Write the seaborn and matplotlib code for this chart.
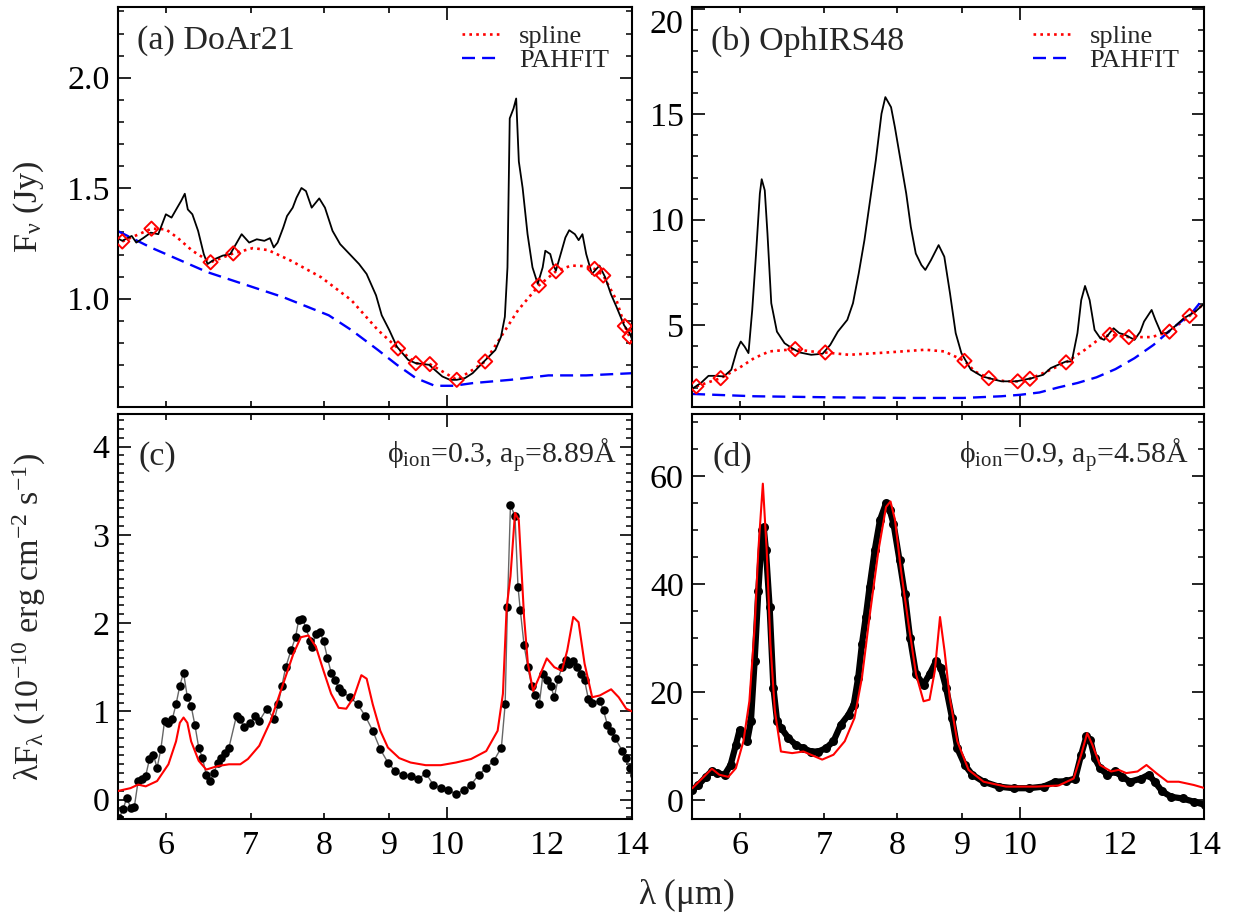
import numpy as np
import pandas as pd
import matplotlib
matplotlib.use("Agg")
import matplotlib.pyplot as plt
import seaborn as sns
from matplotlib.ticker import NullLocator, MultipleLocator, FixedLocator

# ---------------- data ----------------
XTICKS = [6, 7, 8, 9, 10, 12, 14]

# (a) DoAr21 observed spectrum, F_nu (Jy)
a_wave = [5.494, 5.543, 5.639, 5.686, 5.757, 5.837, 5.918, 6.000, 6.062, 6.125, 6.168, 6.210,
          6.244, 6.296, 6.362, 6.428, 6.472, 6.562, 6.653, 6.745, 6.886, 6.981, 7.078, 7.176,
          7.250, 7.300, 7.351, 7.427, 7.478, 7.556, 7.608, 7.677, 7.740, 7.821, 7.929, 8.012,
          8.123, 8.236, 8.379, 8.524, 8.642, 8.792, 8.883, 9.006, 9.131, 9.322, 9.451, 9.681,
          9.782, 9.918, 10.055, 10.181, 10.336, 10.479, 10.698, 10.921, 11.034, 11.111, 11.164,
          11.21, 11.288, 11.342, 11.397, 11.476, 11.579, 11.683, 11.796, 11.902, 11.959, 12.067,
          12.125, 12.192, 12.319, 12.404, 12.490, 12.619, 12.706, 12.794, 12.882, 13.016, 13.196,
          13.333, 13.471, 13.611, 13.800, 13.943, 14.01]
a_flux = [1.274, 1.262, 1.284, 1.254, 1.274, 1.299, 1.292, 1.382, 1.367, 1.412, 1.442, 1.475,
          1.404, 1.382, 1.307, 1.202, 1.157, 1.180, 1.195, 1.202, 1.292, 1.254, 1.269, 1.262,
          1.274, 1.232, 1.254, 1.322, 1.374, 1.412, 1.457, 1.501, 1.487, 1.412, 1.454, 1.412,
          1.307, 1.247, 1.202, 1.157, 1.112, 1.015, 0.925, 0.858, 0.783, 0.723, 0.708, 0.701,
          0.678, 0.648, 0.633, 0.633, 0.641, 0.663, 0.716, 0.768, 0.828, 0.918, 1.142,
          1.816, 1.861, 1.906, 1.621, 1.501, 1.292, 1.142, 1.067, 1.142, 1.217, 1.202,
          1.157, 1.127, 1.217, 1.277, 1.310, 1.292, 1.265, 1.292, 1.202, 1.112, 1.150,
          1.097, 1.022, 0.963, 0.880, 0.843, 0.813]
a_knot_wave = [5.543, 5.845, 6.508, 6.782, 9.150, 9.451, 9.695, 10.181, 10.720, 11.820, 12.192,
               13.079, 13.287, 13.819, 13.943]
a_knot_flux = [1.259, 1.317, 1.165, 1.205, 0.775, 0.708, 0.704, 0.633, 0.716, 1.060, 1.124,
               1.135, 1.105, 0.876, 0.828]
a_spline_wave = [5.543, 5.845, 6.000, 6.125, 6.296, 6.508, 6.782, 7.029, 7.226, 7.531, 7.957,
                 8.407, 8.822, 9.150, 9.451, 9.695, 9.918, 10.181, 10.479, 10.720, 11.034,
                 11.381, 11.820, 12.192, 12.533, 12.882, 13.079, 13.287, 13.611, 13.819, 14.01]
a_spline_flux = [1.259, 1.317, 1.314, 1.277, 1.217, 1.165, 1.205, 1.229, 1.220, 1.172, 1.097,
                 0.993, 0.858, 0.775, 0.708, 0.704, 0.671, 0.633, 0.678, 0.716, 0.828,
                 0.948, 1.060, 1.124, 1.150, 1.147, 1.135, 1.105, 0.993, 0.876, 0.798]
a_pahfit_wave = [5.494, 5.837, 6.472, 7.427, 8.067, 8.407, 8.822, 9.131, 9.451, 9.782, 10.125,
                 10.479, 11.226, 12.026, 12.882, 14.01]
a_pahfit_flux = [1.307, 1.232, 1.120, 1.007, 0.925, 0.858, 0.768, 0.701, 0.641, 0.606, 0.606,
                 0.618, 0.633, 0.653, 0.653, 0.663]

# (b) OphIRS48 observed spectrum, F_nu (Jy)
b_wave = [5.513, 5.590, 5.668, 5.747, 5.828, 5.909, 5.971, 6.012, 6.054, 6.097, 6.139, 6.182,
          6.225, 6.246, 6.281, 6.312, 6.356, 6.422, 6.512, 6.603, 6.695, 6.836, 6.980, 7.078,
          7.177, 7.302, 7.378, 7.456, 7.534, 7.612, 7.692, 7.772, 7.827, 7.909, 7.964, 8.047,
          8.131, 8.199, 8.274, 8.360, 8.419, 8.507, 8.626, 8.716, 8.807, 8.899, 8.992, 9.150,
          9.343, 9.672, 9.944, 10.225, 10.440, 10.586, 10.734, 10.884, 10.998, 11.113, 11.190,
          11.268, 11.363, 11.466, 11.586, 11.667, 11.871, 11.995, 12.121, 12.333, 12.462,
          12.549, 12.724, 12.812, 12.946, 13.081, 13.310, 13.496, 13.780, 13.992]
b_flux = [2.00, 2.24, 2.58, 2.58, 2.55, 2.87, 3.82, 4.21, 3.97, 3.66, 5.71, 8.39,
          11.24, 11.92, 11.39, 9.34, 6.03, 4.68, 4.13, 3.89, 3.69, 3.58, 3.63, 4.05,
          4.68, 5.24, 6.03, 7.45, 9.03, 10.92, 12.82, 15.03, 15.82, 15.34, 14.40, 12.82,
          11.24, 9.66, 8.39, 7.84, 7.61, 8.08, 8.79, 8.24, 6.50, 4.61, 3.66, 2.87,
          2.55, 2.32, 2.32, 2.47, 2.63, 2.95, 3.11, 3.26, 3.26, 4.61, 6.18,
          6.85, 6.18, 4.76, 4.37, 4.29, 4.84, 4.61, 4.53, 4.29, 4.68,
          5.16, 5.71, 5.24, 4.61, 4.61, 4.99, 5.32, 5.63, 5.99]
b_knot_wave = [5.544, 5.795, 6.640, 7.014, 9.043, 9.453, 9.965, 10.190, 10.884, 11.789, 12.205,
               13.145, 13.637]
b_knot_flux = [2.08, 2.47, 3.85, 3.69, 3.29, 2.47, 2.32, 2.44, 3.22, 4.53, 4.42, 4.68, 5.43]
b_spline_wave = [5.544, 5.795, 5.992, 6.160, 6.334, 6.640, 6.836, 7.014, 7.327, 7.854, 8.419,
                 8.716, 9.043, 9.214, 9.453, 9.740, 9.965, 10.190, 10.513, 10.884, 11.268,
                 11.586, 11.789, 12.205, 12.724, 13.145, 13.637, 13.992]
b_spline_flux = [2.08, 2.47, 2.95, 3.42, 3.74, 3.85, 3.74, 3.69, 3.58, 3.69, 3.82,
                 3.74, 3.29, 2.79, 2.47, 2.32, 2.32, 2.44, 2.79, 3.22, 3.82,
                 4.37, 4.53, 4.42, 4.42, 4.68, 5.43, 5.99]
b_pahfit_wave = [5.501, 6.160, 7.078, 8.131, 9.024, 9.672, 10.013, 10.368, 10.734, 11.113,
                 11.506, 11.912, 12.333, 12.768, 13.218, 13.685, 13.924]
b_pahfit_flux = [1.72, 1.61, 1.56, 1.53, 1.53, 1.61, 1.68, 1.79, 2.03, 2.24,
                 2.51, 2.90, 3.42, 4.05, 4.84, 5.55, 6.11]

# (c) DoAr21 PAH emission, lambda F_lambda (1e-10 erg cm-2 s-1)
c_wave = [5.512, 5.550, 5.589, 5.627, 5.666, 5.705, 5.745, 5.784, 5.824, 5.864, 5.905, 5.945,
          5.986, 6.028, 6.070, 6.112, 6.154, 6.196, 6.239, 6.282, 6.326, 6.369, 6.413, 6.457,
          6.502, 6.547, 6.592, 6.637, 6.683, 6.729, 6.822, 6.869, 6.917, 6.994, 7.061, 7.110,
          7.208, 7.308, 7.359, 7.409, 7.460, 7.532, 7.595, 7.637, 7.690, 7.743, 7.796, 7.829,
          7.882, 7.937, 7.991, 8.047, 8.102, 8.158, 8.214, 8.271, 8.386, 8.502, 8.619, 8.739,
          8.860, 8.983, 9.107, 9.233, 9.361, 9.490, 9.622, 9.755, 9.890, 10.028, 10.166, 10.307,
          10.450, 10.595, 10.741, 10.890, 11.041, 11.117, 11.163, 11.225, 11.318, 11.380, 11.427,
          11.506, 11.586, 11.666, 11.746, 11.827, 11.909, 11.991, 12.074, 12.157, 12.241, 12.326,
          12.411, 12.496, 12.582, 12.669, 12.757, 12.844, 12.933, 13.022, 13.204, 13.294, 13.386,
          13.479, 13.572, 13.759, 13.854, 13.950, 14.046]
c_obs = [-0.21, -0.11, 0.02, -0.09, -0.08, 0.21, 0.23, 0.27, 0.46, 0.51, 0.36, 0.57,
         0.89, 0.87, 0.91, 1.08, 1.29, 1.44, 1.16, 1.06, 0.84, 0.59, 0.47, 0.28,
         0.21, 0.30, 0.42, 0.47, 0.53, 0.59, 0.95, 0.91, 0.82, 0.87, 0.95, 0.89,
         1.03, 0.91, 1.08, 1.29, 1.50, 1.69, 1.84, 2.03, 2.05, 1.94, 1.80, 1.73,
         1.88, 1.90, 1.80, 1.61, 1.44, 1.35, 1.27, 1.22, 1.16, 1.08, 0.95, 0.78,
         0.57, 0.42, 0.32, 0.28, 0.27, 0.23, 0.30, 0.17, 0.13, 0.11, 0.06, 0.11,
         0.17, 0.28, 0.36, 0.44, 0.59, 1.08, 2.18, 3.34, 3.21, 2.41, 2.15,
         1.75, 1.50, 1.29, 1.18, 1.08, 1.42, 1.35, 1.29, 1.16, 1.37, 1.50,
         1.58, 1.54, 1.57, 1.50, 1.42, 1.35, 1.14, 1.10, 1.12, 1.01, 0.85,
         0.78, 0.70, 0.55, 0.47, 0.36, 0.28]
c_model_wave = [5.490, 5.627, 5.705, 5.784, 5.905, 6.028, 6.112, 6.154, 6.196, 6.239, 6.282,
                6.369, 6.457, 6.592, 6.729, 6.869, 6.965, 7.110, 7.258, 7.409, 7.564, 7.668,
                7.775, 7.882, 7.991, 8.102, 8.214, 8.328, 8.443, 8.560, 8.643, 8.739, 8.860,
                8.983, 9.170, 9.361, 9.622, 9.890, 10.166, 10.450, 10.741, 10.966, 11.072,
                11.148, 11.225, 11.318, 11.396, 11.506, 11.586, 11.698, 11.827, 11.991, 12.157,
                12.326, 12.445, 12.582, 12.704, 12.844, 13.022, 13.204, 13.479, 13.665, 13.854,
                14.046]
c_model = [0.095, 0.13, 0.17, 0.15, 0.21, 0.40, 0.66, 0.87, 0.93, 0.87, 0.66,
           0.44, 0.34, 0.38, 0.40, 0.40, 0.46, 0.61, 0.89, 1.27, 1.65, 1.84,
           1.86, 1.73, 1.46, 1.20, 1.04, 1.03, 1.16, 1.41, 1.37, 1.08, 0.78,
           0.59, 0.47, 0.42, 0.39, 0.39, 0.42, 0.46, 0.55, 0.78, 1.20,
           2.18, 2.53, 3.25, 3.17, 2.07, 1.54, 1.23, 1.39, 1.60, 1.50,
           1.46, 1.69, 2.07, 2.01, 1.54, 1.16, 1.18, 1.25, 1.16, 1.03,
           0.99]

# (d) OphIRS48 PAH emission
d_wave = [5.503, 5.564, 5.641, 5.703, 5.757, 5.837, 5.901, 5.958, 5.999, 6.041, 6.082, 6.124,
          6.166, 6.208, 6.251, 6.268, 6.294, 6.337, 6.381, 6.424, 6.469, 6.558, 6.649, 6.740,
          6.833, 6.927, 7.023, 7.120, 7.218, 7.318, 7.388, 7.449, 7.500, 7.552, 7.604, 7.677,
          7.751, 7.837, 7.890, 7.944, 8.032, 8.109, 8.187, 8.278, 8.392, 8.484, 8.589, 8.660,
          8.744, 8.840, 8.925, 9.048, 9.173, 9.364, 9.623, 9.891, 10.166, 10.448, 10.665,
          10.886, 11.067, 11.189, 11.296, 11.375, 11.468, 11.579, 11.739, 11.901, 12.065,
          12.231, 12.485, 12.657, 12.796, 12.973, 13.188, 13.462, 13.741, 14.027]
d_obs = [1.9, 2.8, 4.3, 5.4, 5.0, 4.7, 6.5, 10.2, 13.0, 12.4, 10.9, 14.6,
         25.8, 38.8, 50.0, 50.6, 46.3, 35.7, 20.8, 14.6, 13.4, 11.5, 10.2, 9.6,
         9.0, 9.0, 9.6, 10.9, 14.0, 15.8, 17.7, 22.7, 28.9, 33.9, 39.4, 46.3,
         51.9, 55.0, 53.7, 51.2, 44.4, 38.2, 30.1, 23.3, 21.4, 23.3, 25.8, 24.5,
         20.8, 15.2, 9.6, 6.5, 4.7, 3.4, 2.5, 2.2, 2.2, 2.5, 3.4,
         3.5, 4.0, 8.4, 11.8, 11.2, 7.8, 5.9, 4.7, 5.3, 4.3,
         3.4, 4.0, 4.7, 3.4, 1.6, 0.6, 0.3, -0.3, -0.9]
d_model_wave = [5.503, 5.602, 5.703, 5.781, 5.877, 5.958, 6.041, 6.107, 6.166, 6.208, 6.259,
                6.303, 6.346, 6.398, 6.469, 6.603, 6.740, 6.833, 6.975, 7.120, 7.268, 7.398,
                7.500, 7.604, 7.730, 7.837, 7.901, 7.966, 8.054, 8.165, 8.278, 8.392, 8.484,
                8.566, 8.648, 8.720, 8.804, 8.925, 9.110, 9.364, 9.756, 10.306, 10.738, 11.036,
                11.189, 11.312, 11.421, 11.579, 11.819, 11.982, 12.147, 12.400, 12.605, 12.831,
                13.098, 13.370, 13.741, 14.027]
d_model = [2.2, 4.0, 5.8, 4.7, 4.3, 5.9, 10.9, 18.3, 32.0, 46.3, 58.6,
           46.3, 28.9, 16.5, 9.0, 8.7, 9.0, 8.4, 7.5, 8.4, 10.9, 15.2,
           22.7, 33.9, 46.3, 54.3, 55.3, 51.9, 42.5, 32.6, 23.3, 18.3, 18.6,
           23.9, 33.9, 27.6, 18.9, 10.9, 5.6, 3.4, 2.5, 2.5, 2.7, 4.0,
           8.4, 12.4, 10.2, 6.5, 5.3, 5.6, 5.0, 5.3, 6.5, 5.0,
           3.4, 3.4, 2.8, 2.2]

panel_titles = ["(a) DoAr21", "(b) OphIRS48", "(c)", "(d)"]
fit_labels = [r"$\phi_{ion}$=0.3, a$_p$=8.89Å", r"$\phi_{ion}$=0.9, a$_p$=4.58Å"]

# ---------------- style ----------------
sns.set_style("ticks")
plt.rcParams.update({
    "font.family": ["Liberation Serif", "DejaVu Serif"],
    "mathtext.fontset": "custom",
    "mathtext.rm": "Liberation Serif",
    "mathtext.it": "Liberation Serif:italic",
    "mathtext.bf": "Liberation Serif:bold",
    "mathtext.default": "regular",
    "axes.linewidth": 1.5,
    "axes.edgecolor": "black",
    "xtick.direction": "in",
    "ytick.direction": "in",
    "xtick.top": True,
    "ytick.right": True,
    "xtick.color": "black",
    "ytick.color": "black",
    "axes.unicode_minus": True,
})

FS = 24.5
W, H = 1236, 923
fig = plt.figure(figsize=(W / 100, H / 100), dpi=100)


def box(l, r, t, b):
    return [l / W, 1 - b / H, (r - l) / W, (b - t) / H]


ax_a = fig.add_axes(box(118, 632, 7, 407))
ax_b = fig.add_axes(box(692, 1204, 7, 407))
ax_c = fig.add_axes(box(118, 632, 414, 819))
ax_d = fig.add_axes(box(692, 1204, 414, 819))


def style_axes(ax, ylim, yticks, minor, xlabels):
    ax.set_xscale("log")
    ax.set_xlim(5.5, 14)
    ax.set_xticks(XTICKS)
    ax.xaxis.set_minor_locator(NullLocator())
    if xlabels:
        ax.set_xticklabels([str(t) for t in XTICKS])
    else:
        ax.set_xticklabels([])
    ax.tick_params(axis="x", which="major", labelsize=FS, width=1.2, pad=8)
    for t, v in zip(ax.xaxis.get_major_ticks(), XTICKS):
        L = 9 if v == 10 else (4 if v < 10 else 0)
        t.tick1line.set_markersize(L)
        t.tick2line.set_markersize(L)
    ax.set_ylim(*ylim)
    ax.yaxis.set_major_locator(FixedLocator(yticks))
    ax.yaxis.set_minor_locator(MultipleLocator(minor))
    ax.tick_params(axis="y", which="major", length=9, width=1.2, labelsize=FS, pad=6)
    ax.tick_params(axis="y", which="minor", length=4.5, width=1.1)
    for s in ax.spines.values():
        s.set_linewidth(1.5)
    ax.set_xlabel("")
    ax.set_ylabel("")


def top_panel(ax, wave, flux, kw, kf, sw, sf, pw, pf, title, legx):
    sns.lineplot(x=wave, y=flux, ax=ax, color="black", linewidth=1.3,
                 sort=False, estimator=None, zorder=3)
    sns.lineplot(x=sw, y=sf, ax=ax, color="red", linewidth=1.9,
                 sort=False, estimator=None, zorder=2)
    l_spl = ax.lines[-1]
    l_spl.set_dashes([1.0, 1.6])
    sns.lineplot(x=pw, y=pf, ax=ax, color="#0000ff", linewidth=1.7,
                 sort=False, estimator=None, zorder=2)
    l_pah = ax.lines[-1]
    l_pah.set_dashes([5.5, 3.0])
    sns.scatterplot(x=kw, y=kf, ax=ax, marker="D", s=52, facecolor="none",
                    edgecolor="red", linewidth=1.4, zorder=5)
    ax.legend([l_spl, l_pah], ["spline", "PAHFIT"], loc="upper right",
              bbox_to_anchor=(legx, 0.955), frameon=False, fontsize=19,
              handlelength=1.4, handletextpad=0.75, labelspacing=0.0,
              borderpad=0, borderaxespad=0)
    ax.text(0.037, 0.915, title, transform=ax.transAxes, fontsize=FS,
            ha="left", va="center")


top_panel(ax_a, a_wave, a_flux, a_knot_wave, a_knot_flux, a_spline_wave, a_spline_flux,
          a_pahfit_wave, a_pahfit_flux, panel_titles[0], 0.955)
top_panel(ax_b, b_wave, b_flux, b_knot_wave, b_knot_flux, b_spline_wave, b_spline_flux,
          b_pahfit_wave, b_pahfit_flux, panel_titles[1], 0.952)

# (c)
sns.lineplot(x=c_wave, y=c_obs, ax=ax_c, color="#666666", linewidth=1.0,
             sort=False, estimator=None, zorder=2)
sns.scatterplot(x=c_wave, y=c_obs, ax=ax_c, color="black", s=38, linewidth=0, zorder=3)
sns.lineplot(x=c_model_wave, y=c_model, ax=ax_c, color="red", linewidth=1.5,
             sort=False, estimator=None, zorder=4)
# (d)
sns.lineplot(x=d_wave, y=d_obs, ax=ax_d, color="black", linewidth=4.5,
             sort=False, estimator=None, zorder=2)
sns.scatterplot(x=d_wave, y=d_obs, ax=ax_d, color="black", s=42, linewidth=0, zorder=3)
sns.lineplot(x=d_model_wave, y=d_model, ax=ax_d, color="red", linewidth=1.5,
             sort=False, estimator=None, zorder=4)

for ax, title, fl in [(ax_c, panel_titles[2], fit_labels[0]), (ax_d, panel_titles[3], fit_labels[1])]:
    ax.text(0.04, 0.894, title, transform=ax.transAxes, fontsize=FS, ha="left", va="center")
    ax.text(0.97, 0.877, fl, transform=ax.transAxes, fontsize=21.5, ha="right", va="baseline")

style_axes(ax_a, (0.51, 2.32), [1.0, 1.5, 2.0], 0.1, False)
style_axes(ax_b, (1.1, 20.1), [5, 10, 15, 20], 1, False)
style_axes(ax_c, (-0.22, 4.37), [0, 1, 2, 3, 4], 0.1, True)
style_axes(ax_d, (-3.5, 71.5), [0, 20, 40, 60], 5, True)

# the "20" label sits at the very top of panel (b): hang it below the tick
ax_b.yaxis.get_major_ticks()[3].label1.set_verticalalignment("top")

fig.text(29 / W, 1 - 207 / H, r"F$_\nu$ (Jy)", rotation=90, fontsize=FS,
         ha="center", va="center")
fig.text(29 / W, 1 - 617 / H, r"$\lambda$F$_\lambda$ (10$^{-10}$ erg cm$^{-2}$ s$^{-1}$)",
         rotation=90, fontsize=FS, ha="center", va="center")
fig.text(686 / W, 1 - 895 / H, r"$\lambda$ ($\mu$m)", fontsize=25.5, ha="center", va="center")

fig.savefig("out.png", dpi=100)
